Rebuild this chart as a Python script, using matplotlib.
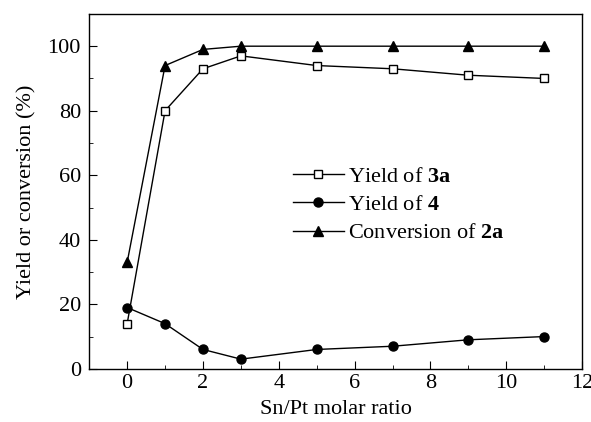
import numpy as np
import matplotlib
matplotlib.use("Agg")
import matplotlib.pyplot as plt
from matplotlib.ticker import MultipleLocator

plt.rcParams['font.family'] = ['Liberation Serif', 'DejaVu Serif']
plt.rcParams['mathtext.fontset'] = 'custom'
plt.rcParams['mathtext.rm'] = 'Liberation Serif'
plt.rcParams['mathtext.bf'] = 'Liberation Serif:bold'

ratio = [0, 1, 2, 3, 5, 7, 9, 11]
yield_3a = [14, 80, 93, 97, 94, 93, 91, 90]
yield_4 = [19, 14, 6, 3, 6, 7, 9, 10]
conv_2a = [33, 94, 99, 100, 100, 100, 100, 100]

fig = plt.figure(figsize=(5.91, 4.22), dpi=100)
ax = fig.add_axes([0.151, 0.126, 0.834, 0.841])

ax.plot(ratio, yield_3a, color='black', lw=1, marker='s', ms=5.5,
        mfc='white', mec='black', mew=1, label=r'Yield of $\mathbf{3a}$')
ax.plot(ratio, yield_4, color='black', lw=1, marker='o', ms=6.5,
        label=r'Yield of $\mathbf{4}$')
ax.plot(ratio, conv_2a, color='black', lw=1, marker='^', ms=7.5,
        label=r'Conversion of $\mathbf{2a}$')

ax.set_xlim(-1, 12)
ax.set_ylim(0, 110)
ax.xaxis.set_major_locator(MultipleLocator(2))
ax.xaxis.set_minor_locator(MultipleLocator(1))
ax.yaxis.set_major_locator(MultipleLocator(20))
ax.yaxis.set_minor_locator(MultipleLocator(10))
ax.tick_params(which='both', direction='in', labelsize=16, top=False, right=False)
ax.tick_params(which='major', length=6, pad=6)
ax.tick_params(axis='x', which='major', pad=4)
ax.tick_params(which='minor', length=3)
for s in ax.spines.values():
    s.set_linewidth(1)

ax.set_xlabel('Sn/Pt molar ratio', fontsize=16, labelpad=5)
ax.set_ylabel('Yield or conversion (%)', fontsize=16, labelpad=8)

ax.legend(loc='center left', bbox_to_anchor=(0.39, 0.462), frameon=False,
          fontsize=16, handlelength=2.3, handletextpad=0.2, labelspacing=0.35,
          borderpad=0)

fig.savefig('out.png', dpi=100)
